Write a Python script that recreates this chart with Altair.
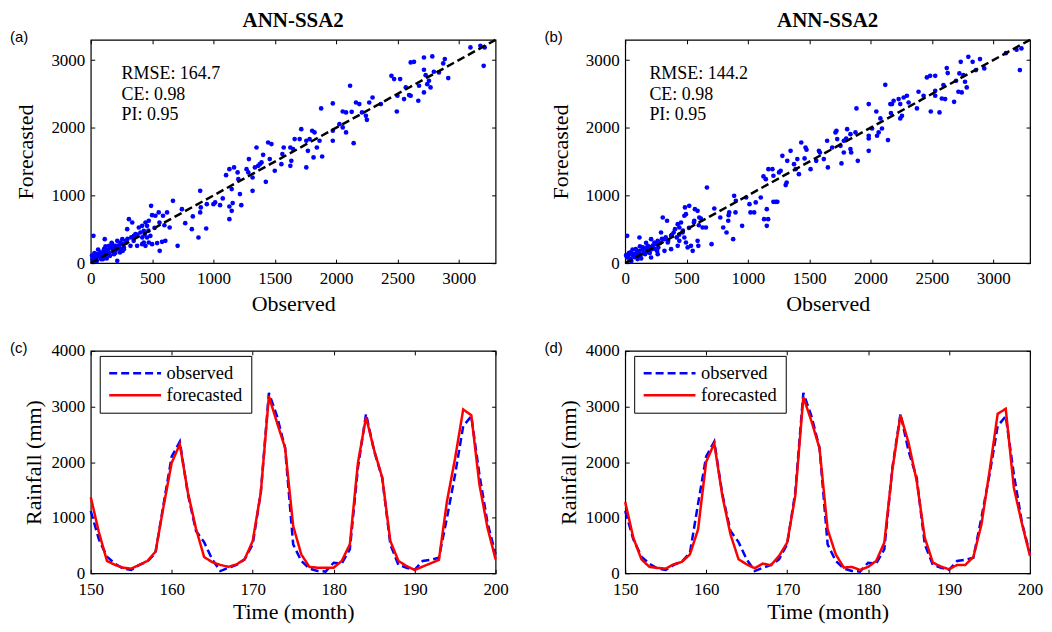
import altair as alt
import pandas as pd

# ---------------- data ----------------
# panel (a) scatter: observed vs forecasted
A_OBS = [3095, 3176, 3211, 3203, 2716, 2784, 2635, 2886, 2873, 2838, 2797, 2716, 2730, 2757, 2770, 2716,
         2676, 2743, 2670, 2914, 2608, 2451, 2473, 2522, 2568, 2595, 2554, 2608, 2500, 2495, 2365, 2297,
         2270, 2243, 2251, 2211, 2189, 2162, 2114, 2054, 2081, 2127, 2027, 2054, 2081, 1973, 1973, 1973,
         2143, 1878, 1805, 1824, 1757, 1784, 1865, 1716, 1703, 1662, 1627, 1649, 1573, 1562, 1770, 1843,
         1886, 1816, 1757, 1635, 1627, 1554, 1500, 1459, 1446, 1473, 1405, 1392, 1378, 1365, 1338, 1351,
         1289, 1270, 1284, 1319, 1427, 1168, 1130, 1103, 1197, 1203, 1216, 1149, 1319, 1157, 1130, 1149,
         1130, 1227, 1076, 1054, 1014, 1000, 892, 946, 897, 892, 832, 878, 941, 770, 824, 743,
         708, 670, 643, 622, 589, 608, 581, 554, 527, 492, 500, 562, 541, 473, 446, 459,
         419, 432, 405, 392, 365, 351, 486, 459, 500, 473, 432, 419, 446, 338, 311, 297,
         324, 284, 257, 243, 230, 216, 203, 189, 176, 162, 149, 135, 122, 108, 114, 95,
         81, 68, 54, 41, 27, 22, 14, 32, 216, 270, 378, 238, 157, 189, 86,
         20, 30, 45, 60, 75, 90, 100, 110, 125, 140, 150, 165, 180, 195, 210, 225,
         240, 255, 270, 285, 60, 120, 170, 35, 10, 50, 100, 130, 200, 260, 300, 330,
         350, 380, 420, 440, 470, 520, 560, 600]
A_FC = [3187, 3212, 3187, 2916, 3039, 3054, 2975, 3015, 2951, 2818, 2828, 2857, 2778, 2695, 2596, 2522,
        2621, 2645, 2399, 2734, 2966, 2768, 2719, 2719, 2596, 2483, 2424, 2473, 2473, 2241, 2350, 2448,
        2374, 2177, 2118, 2227, 2350, 2374, 2621, 2241, 2227, 2236, 2054, 2005, 1931, 2360, 1956, 1808,
        1773, 2286, 1956, 1931, 1808, 1833, 1808, 1980, 1833, 1833, 1709, 1685, 1709, 1611, 1660, 1709,
        1576, 1562, 1414, 1512, 1438, 1463, 1365, 1537, 1783, 1759, 1601, 1488, 1463, 1438, 1414, 1709,
        1537, 1389, 1340, 1266, 1202, 1414, 1389, 1300, 1340, 1241, 1020, 1094, 1069, 887, 837, 773,
        650, 857, 956, 857, 897, 872, 1069, 872, 823, 749, 690, 379, 512, 591, 502, 798,
        256, 921, 527, 749, 700, 330, 315, 749, 700, 847, 709, 182, 296, 626, 601, 552,
        552, 478, 453, 527, 429, 404, 404, 379, 281, 305, 305, 281, 256, 601, 650, 502,
        256, 330, 355, 305, 256, 330, 256, 207, 281, 232, 256, 182, 158, 207, 355, 133,
        158, 108, 133, 99, 84, 404, 59, 133, 34, 207, 256, 158, 108, 133, 59,
        100, 150, 60, 120, 90, 150, 100, 170, 120, 200, 150, 220, 170, 240, 200, 260,
        210, 280, 230, 300, 200, 250, 300, 40, 110, 30, 60, 70, 150, 180, 360, 380,
        330, 420, 380, 420, 480, 520, 600, 560]

# panel (b) scatter: observed vs forecasted
B_OBS = [3103, 3190, 3230, 3217, 2797, 2735, 2832, 2892, 2927, 2859, 2621, 2629, 2724, 2757, 2697, 2770,
         2784, 2716, 2743, 2681, 2594, 2581, 2608, 2527, 2486, 2459, 2527, 2527, 2562, 2491, 2432, 2391,
         2378, 2296, 2270, 2310, 2242, 2229, 2188, 2175, 2161, 2256, 2242, 2166, 2120, 2080, 2047, 2093,
         2066, 2053, 1985, 1985, 1985, 1985, 2142, 2012, 1885, 1809, 1877, 1836, 1801, 1782, 1755, 1722,
         1714, 1728, 1646, 1687, 1782, 1836, 1842, 1896, 1763, 1652, 1587, 1579, 1619, 1557, 1511, 1462,
         1470, 1435, 1478, 1403, 1376, 1389, 1416, 1321, 1348, 1281, 1267, 1254, 1316, 1308, 1200, 1208,
         1167, 1127, 1146, 1105, 1154, 1165, 1132, 1154, 1227, 1208, 1240, 1064, 1051, 1013, 986, 1021,
         888, 902, 848, 843, 899, 840, 799, 826, 880, 953, 726, 775, 666, 704, 658, 631,
         617, 604, 563, 590, 568, 522, 487, 495, 482, 590, 550, 536, 596, 509, 495, 468,
         441, 455, 428, 406, 395, 374, 347, 341, 306, 292, 320, 482, 428, 441, 265, 238,
         211, 225, 184, 171, 144, 116, 116, 108, 87, 62, 43, 27, 16, 8, 16, 211,
         265, 162, 320, 374,
         20, 30, 45, 60, 75, 90, 100, 110, 125, 140, 150, 165, 180, 195, 210, 225,
         240, 255, 270, 285, 60, 120, 170, 35, 10, 50, 100, 130, 200, 260, 300, 330,
         350, 380, 420, 440, 470, 520, 560, 600]
B_FC = [3103, 3153, 3172, 2852, 3049, 2975, 2975, 3015, 2877, 2852, 2882, 2808, 2803, 2778, 2695, 2680,
        2596, 2532, 2522, 2384, 2631, 2433, 2424, 2768, 2768, 2744, 2547, 2473, 2227, 2241, 2473, 2532,
        2286, 2473, 2448, 2374, 2350, 2424, 2399, 2350, 2350, 2177, 2138, 2217, 2635, 2138, 2241, 1990,
        1931, 1882, 2350, 1882, 1842, 1660, 1818, 1990, 2286, 1980, 1931, 1906, 1842, 1808, 1734, 1956,
        1931, 1833, 1808, 1709, 1635, 1685, 1635, 1512, 1473, 1414, 1635, 1660, 1537, 1512, 1389, 1547,
        1709, 1783, 1675, 1537, 1463, 1389, 1315, 1512, 1660, 1586, 1364, 1340, 1192, 1153, 1389, 1291,
        1389, 1281, 1241, 970, 798, 650, 650, 552, 906, 906, 906, 897, 749, 872, 970, 749,
        995, 921, 749, 709, 749, 626, 527, 453, 355, 552, 808, 675, 1118, 281, 527, 527,
        660, 675, 626, 773, 798, 847, 823, 724, 700, 330, 182, 256, 256, 232, 305, 453,
        527, 601, 576, 502, 453, 404, 305, 626, 675, 453, 355, 379, 256, 330, 330, 305,
        355, 232, 256, 207, 232, 182, 379, 158, 207, 133, 158, 118, 404, 118, 84, 84,
        133, 133, 182, 207,
        100, 150, 60, 120, 90, 150, 100, 170, 120, 200, 150, 220, 170, 240, 200, 260,
        210, 280, 230, 300, 200, 250, 300, 40, 110, 30, 60, 70, 150, 180, 360, 380,
        330, 420, 380, 420, 480, 520, 600, 560]

# bottom panels: time series
MONTHS = list(range(150, 201))
OBSERVED = [1120, 610, 300, 170, 84, 60, 150, 210, 370, 1250, 2100, 2370, 1420, 760, 560, 250, 40,
            100, 150, 250, 520, 1450, 3245, 2826, 2257, 520, 222, 84, 42, 30, 190, 175, 430, 1900,
            2868, 2197, 1718, 520, 150, 100, 60, 222, 240, 280, 1000, 1778, 2646, 2826, 1778, 910, 340]
FORECAST_C = [1370, 740, 222, 150, 100, 84, 150, 222, 390, 1210, 1990, 2320, 1450, 800, 293, 200, 150,
              115, 160, 250, 580, 1450, 3186, 2710, 2257, 850, 340, 115, 100, 100, 100, 222, 520, 1990,
              2808, 2215, 1718, 580, 222, 130, 60, 120, 180, 240, 1300, 2070, 2946, 2844, 1600, 820, 250]
FORECAST_D = [1281, 640, 251, 114, 96, 84, 162, 204, 341, 790, 2006, 2335, 1389, 700, 251, 160, 90,
              174, 144, 311, 551, 1389, 3168, 2737, 2246, 790, 341, 102, 114, 60, 114, 222, 551, 1868,
              2844, 2347, 1659, 640, 192, 120, 72, 150, 150, 293, 880, 1838, 2868, 2958, 1539, 892, 311]
SERIES = ["observed", "forecasted"]

STATS_A = ["RMSE: 164.7", "CE: 0.98", "PI: 0.95"]
STATS_B = ["RMSE: 144.2", "CE: 0.98", "PI: 0.95"]
STATS_Y = [2790, 2485, 2185]
PANEL_TITLE = "ANN-SSA2"

SC_DOMAIN = [0, 3300]
DIAG = [0, 3300]
SC_XTICKS = [0, 500, 1000, 1500, 2000, 2500, 3000]
SC_YTICKS = [0, 1000, 2000, 3000]
TS_XDOMAIN = [150, 200]
TS_YDOMAIN = [0, 4000]
TS_XTICKS = [150, 160, 170, 180, 190, 200]
TS_YTICKS = [0, 1000, 2000, 3000, 4000]

# ---------------- style ----------------
SERIF = "Liberation Serif"
SANS = "Liberation Sans"
W = 406
H_SC = 224
H_TS = 223
TICK = 4


def ax(orient, values, title=None, labels=True, title_pad=4, label_pad=6):
    kw = dict(orient=orient, values=values, offset=-TICK, tickSize=TICK, labels=labels,
              labelFlush=False, labelOverlap=False, domain=False, grid=False, format="d",
              labelFont=SERIF, labelFontSize=17, labelColor="black", labelPadding=label_pad,
              tickColor="black", tickWidth=1)
    if title is not None:
        kw.update(title=title, titlePadding=title_pad, titleFont=SERIF, titleFontSize=22,
                  titleFontWeight="normal", titleColor="black")
    else:
        kw.update(title=None, minExtent=0, maxExtent=0)
    return alt.Axis(**kw)


def panel_label(letter):
    return alt.Chart(pd.DataFrame({"t": [letter]})).mark_text(
        align="left", baseline="middle", font=SANS, fontSize=15, color="black"
    ).encode(x=alt.value(-81), y=alt.value(-3), text="t:N")


def panel_title():
    return alt.Chart(pd.DataFrame({"t": [PANEL_TITLE]})).mark_text(
        align="center", baseline="alphabetic", font=SERIF, fontSize=21, fontWeight="bold",
        color="black"
    ).encode(x=alt.value(W / 2), y=alt.value(-13), text="t:N")


def scatter_panel(obs, fc, stats, stats_x, letter):
    xs = alt.Scale(domain=SC_DOMAIN, nice=False, zero=False)
    ys = alt.Scale(domain=SC_DOMAIN, nice=False, zero=False)
    df = pd.DataFrame({"Observed": obs, "Forecasted": fc})
    pts = alt.Chart(df).mark_circle(size=22, color="#0000ff", opacity=1).encode(
        x=alt.X("Observed:Q", scale=xs,
                axis=ax("bottom", SC_XTICKS, "Observed", title_pad=7, label_pad=7)),
        y=alt.Y("Forecasted:Q", scale=ys, axis=ax("left", SC_YTICKS, "Forecasted", title_pad=13)),
    )
    diag = alt.Chart(pd.DataFrame({"a": DIAG, "b": DIAG})).mark_line(
        color="black", strokeDash=[8, 4], strokeWidth=2.5
    ).encode(
        x=alt.X("a:Q", scale=xs, axis=ax("top", SC_XTICKS, labels=False)),
        y=alt.Y("b:Q", scale=ys, axis=ax("right", SC_YTICKS, labels=False)),
    )
    txt = alt.Chart(pd.DataFrame({"x": [stats_x] * 3, "y": STATS_Y, "s": stats})).mark_text(
        align="left", baseline="middle", font=SERIF, fontSize=18, color="black"
    ).encode(
        x=alt.X("x:Q", scale=xs, axis=None),
        y=alt.Y("y:Q", scale=ys, axis=None),
        text="s:N",
    )
    return alt.layer(pts, diag, txt, panel_label(letter), panel_title()).resolve_axis(
        x="independent", y="independent"
    ).properties(width=W, height=H_SC)


def ts_panel(fc, letter):
    xs = alt.Scale(domain=TS_XDOMAIN, nice=False, zero=False)
    ys = alt.Scale(domain=TS_YDOMAIN, nice=False, zero=False)
    df = pd.DataFrame({
        "month": MONTHS + MONTHS,
        "rain": OBSERVED + fc,
        "series": ["observed"] * len(MONTHS) + ["forecasted"] * len(MONTHS),
    })
    leg = alt.Legend(title=None, orient="none", legendX=9, legendY=5, symbolType="stroke",
                     symbolSize=2704, symbolStrokeWidth=2.5, clipHeight=19, rowPadding=3,
                     labelOffset=4, padding=8, strokeColor="black", fillColor="white",
                     labelFont=SERIF, labelFontSize=18.5, labelColor="black", cornerRadius=0)
    lines = alt.Chart(df).mark_line(strokeWidth=2.5).encode(
        x=alt.X("month:Q", scale=xs,
                axis=ax("bottom", TS_XTICKS, "Time (month)", title_pad=4, label_pad=8)),
        y=alt.Y("rain:Q", scale=ys, axis=ax("left", TS_YTICKS, "Rainfall (mm)", title_pad=5)),
        color=alt.Color("series:N", scale=alt.Scale(domain=SERIES, range=["#0000ff", "#ff0000"]),
                        legend=leg),
        strokeDash=alt.StrokeDash("series:N", scale=alt.Scale(domain=SERIES, range=[[8, 4], [1, 0]]),
                                  legend=leg),
    )
    mirror = alt.Chart(df).mark_line(strokeOpacity=0).encode(
        x=alt.X("month:Q", scale=xs, axis=ax("top", TS_XTICKS, labels=False)),
        y=alt.Y("rain:Q", scale=ys, axis=ax("right", TS_YTICKS, labels=False)),
        detail="series:N",
    )
    return alt.layer(lines, mirror, panel_label(letter)).resolve_axis(
        x="independent", y="independent"
    ).properties(width=W, height=H_TS)


pa = scatter_panel(A_OBS, A_FC, STATS_A, 251, "(a)")
pb = scatter_panel(B_OBS, B_FC, STATS_B, 197, "(b)")
pc = ts_panel(FORECAST_C, "(c)")
pdd = ts_panel(FORECAST_D, "(d)")

chart = alt.concat(pa, pb, pc, pdd, columns=2, spacing={"row": 88, "column": 130},
                   bounds="flush").resolve_scale(
    color="independent", strokeDash="independent"
).resolve_legend(color="independent", strokeDash="independent").properties(
    padding={"left": 1, "top": 0, "right": 0, "bottom": 0}
).configure_view(stroke="black", strokeWidth=1.2)

chart.save("out.html", embed_options={"renderer": "svg", "actions": False})
